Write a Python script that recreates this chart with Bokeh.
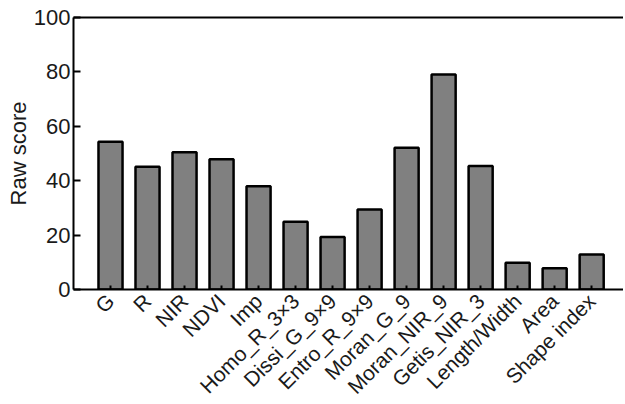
from bokeh.plotting import figure
from bokeh.models import ColumnDataSource, FixedTicker, LinearAxis, Range1d
from bokeh.embed import file_html
from bokeh.resources import INLINE
import math

categories = ["G", "R", "NIR", "NDVI", "Imp", "Homo_R_3×3", "Dissi_G_9×9",
              "Entro_R_9×9", "Moran_G_9", "Moran_NIR_9", "Getis_NIR_3",
              "Length/Width", "Area", "Shape index"]
raw_score = [54.3, 45.1, 50.5, 47.9, 38.0, 24.9, 19.3, 29.4, 52.1, 79.0, 45.4, 9.8, 7.8, 12.9]
y_ticks = [0, 20, 40, 60, 80, 100]

xs = list(range(len(categories)))
src = ColumnDataSource(dict(x=xs, top=raw_score))

FONT = "Liberation Sans"
TXT = "#1a1a1a"

p = figure(frame_width=550, frame_height=272, output_backend="svg", toolbar_location=None,
           x_range=Range1d(-1.0, 13.86), y_range=Range1d(0, 100),
           min_border_left=73, min_border_top=17, min_border_right=0, min_border_bottom=3)
p.outline_line_color = None
p.grid.visible = False
p.background_fill_color = "white"

p.vbar(x="x", top="top", width=0.65, bottom=0, source=src,
       fill_color="#808080", line_color="black", line_width=2.5)

# x axis
xa = p.xaxis[0]
xa.ticker = FixedTicker(ticks=xs)
xa.major_label_overrides = {i: c for i, c in enumerate(categories)}
xa.major_label_orientation = math.pi / 4
xa.major_label_text_font = FONT
xa.major_label_text_font_size = "21px"
xa.major_label_text_color = TXT
xa.major_label_standoff = 8
xa.major_tick_in = 4
xa.major_tick_out = 0
xa.major_tick_line_width = 2
xa.minor_tick_line_color = None
xa.axis_line_width = 2

# y axis
ya = p.yaxis[0]
ya.ticker = FixedTicker(ticks=y_ticks)
ya.axis_label = "Raw score"
ya.axis_label_text_font = FONT
ya.axis_label_text_font_size = "22px"
ya.axis_label_text_font_style = "normal"
ya.axis_label_text_color = TXT
ya.axis_label_standoff = 0
ya.major_label_text_font = FONT
ya.major_label_text_font_size = "22px"
ya.major_label_text_color = TXT
ya.major_label_standoff = 3
ya.major_tick_in = 7
ya.major_tick_out = 0
ya.major_tick_line_width = 2
ya.minor_tick_line_color = None
ya.axis_line_width = 2

# top frame line
top = LinearAxis(ticker=FixedTicker(ticks=[]), major_label_text_font_size="0px",
                 axis_line_width=2, major_tick_line_color=None, minor_tick_line_color=None)
p.add_layout(top, "above")

open("out.html", "w").write(file_html(p, INLINE))
